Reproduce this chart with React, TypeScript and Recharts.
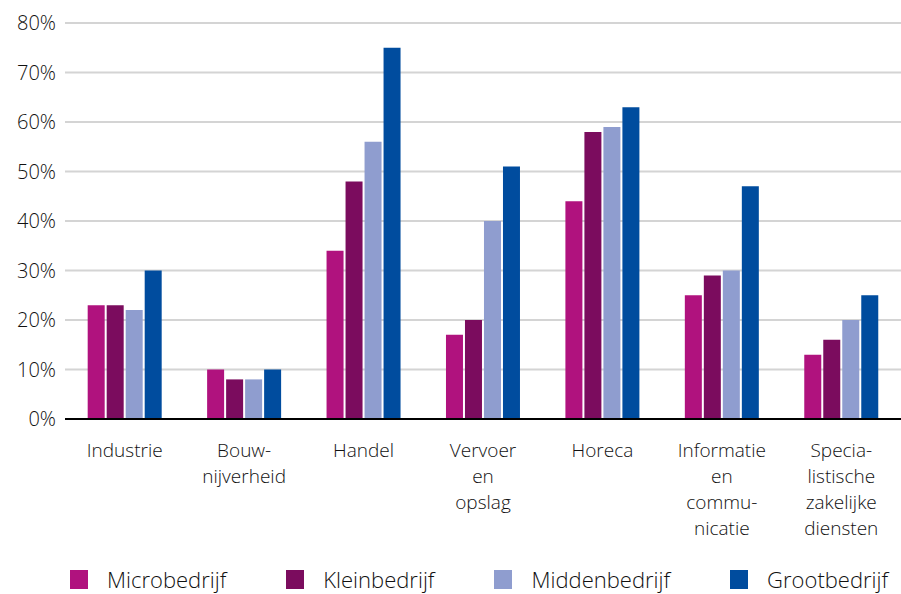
import React from "react";
import { BarChart, Bar, XAxis, YAxis, CartesianGrid, Legend } from "recharts";

const categories = [
  "Industrie",
  "Bouw-\nnijverheid",
  "Handel",
  "Vervoer\nen\nopslag",
  "Horeca",
  "Informatie\nen\ncommu-\nnicatie",
  "Specia-\nlistische\nzakelijke\ndiensten",
];
const micro = [23, 10, 34, 17, 44, 25, 13];
const klein = [23, 8, 48, 20, 58, 29, 16];
const midden = [22, 8, 56, 40, 59, 30, 20];
const groot = [30, 10, 75, 51, 63, 47, 25];
const yTicks = [0, 10, 20, 30, 40, 50, 60, 70, 80];

const seriesNames = ["Microbedrijf", "Kleinbedrijf", "Middenbedrijf", "Grootbedrijf"];
const colors = ["#B0127E", "#7B0C5E", "#8F9DCF", "#004C9E"];

const data = categories.map((c, i) => ({
  name: c,
  Microbedrijf: micro[i],
  Kleinbedrijf: klein[i],
  Middenbedrijf: midden[i],
  Grootbedrijf: groot[i],
}));

const FONT = "'Open Sans', sans-serif";

const XTick = (props: any) => {
  const { x, y, payload } = props;
  const lines = String(payload.value).split("\n");
  return (
    <text x={x} y={y} textAnchor="middle" fill="#111" fontSize={19} fontFamily={FONT} fontWeight={300}>
      {lines.map((l, i) => (
        <tspan key={i} x={x} dy={i === 0 ? 38 : 26}>
          {l}
        </tspan>
      ))}
    </text>
  );
};

const LegendContent = () => (
  <div style={{ display: "flex", alignItems: "center", paddingLeft: 70, paddingTop: 16, fontFamily: FONT, fontWeight: 300, fontSize: 22, color: "#111" }}>
    {seriesNames.map((n, i) => (
      <div key={n} style={{ display: "flex", alignItems: "center", height: 24, marginRight: i < 3 ? 60 : 0 }}>
        <div style={{ width: 18, height: 19, background: colors[i], marginRight: 19 }} />
        <span style={{ lineHeight: "24px" }}>{n}</span>
      </div>
    ))}
  </div>
);

export default function App() {
  return (
    <div style={{ position: "absolute", left: 0, top: 0, width: 901, height: 594, background: "#fff" }}>
      <BarChart
        width={901}
        height={594}
        data={data}
        margin={{ top: 23, right: 0, bottom: 0, left: 0 }}
        barCategoryGap="19%"
        barGap={2}
      >
        <CartesianGrid horizontal vertical={false} stroke="#d4d4d4" strokeWidth={2} />
        <YAxis
          width={65}
          domain={[0, 80]}
          ticks={yTicks}
          interval={0}
          tickLine={false}
          axisLine={false}
          tickMargin={3}
          tickFormatter={(v: number) => `${v}%`}
          tick={{ fill: "#111", fontSize: 20, fontFamily: FONT, fontWeight: 300 }}
        />
        <XAxis
          dataKey="name"
          interval={0}
          height={132}
          tickLine={false}
          tickSize={0}
          tickMargin={0}
          axisLine={{ stroke: "#000", strokeWidth: 2 }}
          tick={<XTick />}
        />
        <Legend verticalAlign="bottom" height={43} content={<LegendContent />} />
        {seriesNames.map((n, i) => (
          <Bar key={n} dataKey={n} fill={colors[i]} isAnimationActive={false} />
        ))}
      </BarChart>
    </div>
  );
}
